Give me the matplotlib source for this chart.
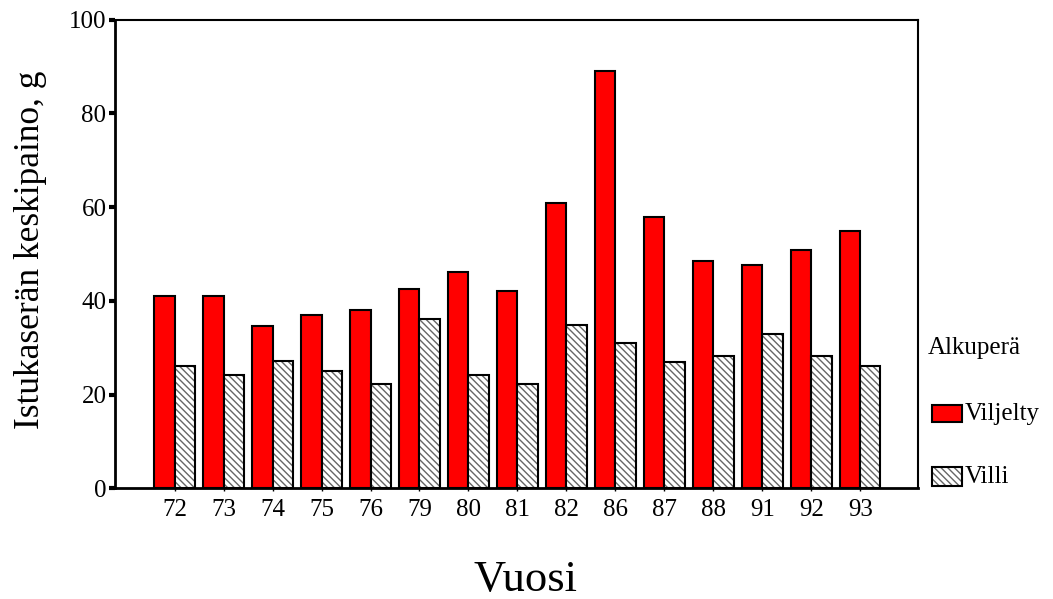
import matplotlib.pyplot as plt
from matplotlib.patches import Rectangle
import numpy as np

years = ['72', '73', '74', '75', '76', '79', '80', '81', '82', '86', '87', '88', '91', '92', '93']
viljelty = [41, 41, 34.6, 37, 38, 42.5, 46.2, 42.1, 60.9, 89.1, 57.9, 48.5, 47.6, 50.9, 54.9]
villi = [26, 24.1, 27.1, 25, 22.2, 36.1, 24.1, 22.2, 34.8, 31, 26.9, 28.2, 32.9, 28.2, 26]
yticks = [0, 20, 40, 60, 80, 100]

plt.rcParams['font.family'] = ['Liberation Serif', 'DejaVu Serif']

fig = plt.figure(figsize=(10.53, 5.99), dpi=100)
ax = fig.add_axes([0.109, 0.185, 0.763, 0.782])

x = np.arange(len(years))
w = 0.41

ax.bar(x - w/2, viljelty, w, color='#ff0000', edgecolor='black', linewidth=1.5, zorder=3)
# hatch in grey, outline in black
ax.bar(x + w/2, villi, w, color='white', edgecolor='#666666', hatch='\\\\\\\\\\', linewidth=0, zorder=3)
ax.bar(x + w/2, villi, w, fill=False, edgecolor='black', linewidth=1.5, zorder=4)

ax.set_xlim(-1.22, len(years) - 1 + 1.18)
ax.set_ylim(0, 100)
ax.set_xticks(x)
ax.set_xticklabels(years, fontsize=18)
ax.set_yticks(yticks)
ax.set_yticklabels([str(v) for v in yticks], fontsize=18)
ax.tick_params(axis='y', direction='out', length=4, width=3, pad=2)
ax.tick_params(axis='x', direction='out', length=2, width=1, pad=6)
for s in ax.spines.values():
    s.set_linewidth(1.5)
ax.spines['left'].set_linewidth(2)
ax.spines['bottom'].set_linewidth(2)

fig.text(0.499, 0.032, 'Vuosi', fontsize=32, ha='center', va='center')
fig.text(0.029, 0.583, 'Istukaserän keskipaino, g', fontsize=25.5, rotation=90,
         ha='center', va='center')

# legend drawn by hand
fig.text(0.881, 0.419, 'Alkuperä', fontsize=18, ha='left', va='center')
fig.add_artist(Rectangle((0.885, 0.2955), 0.0285, 0.0284, transform=fig.transFigure,
                         facecolor='#ff0000', edgecolor='black', linewidth=1.5))
fig.add_artist(Rectangle((0.885, 0.188), 0.0285, 0.033, transform=fig.transFigure,
                         facecolor='white', edgecolor='#666666', hatch='\\\\\\\\\\', linewidth=0))
fig.add_artist(Rectangle((0.885, 0.188), 0.0285, 0.033, transform=fig.transFigure,
                         fill=False, edgecolor='black', linewidth=1.5))
fig.text(0.9165, 0.309, 'Viljelty', fontsize=18, ha='left', va='center')
fig.text(0.9165, 0.204, 'Villi', fontsize=18, ha='left', va='center')

fig.savefig('out.png', dpi=100)
